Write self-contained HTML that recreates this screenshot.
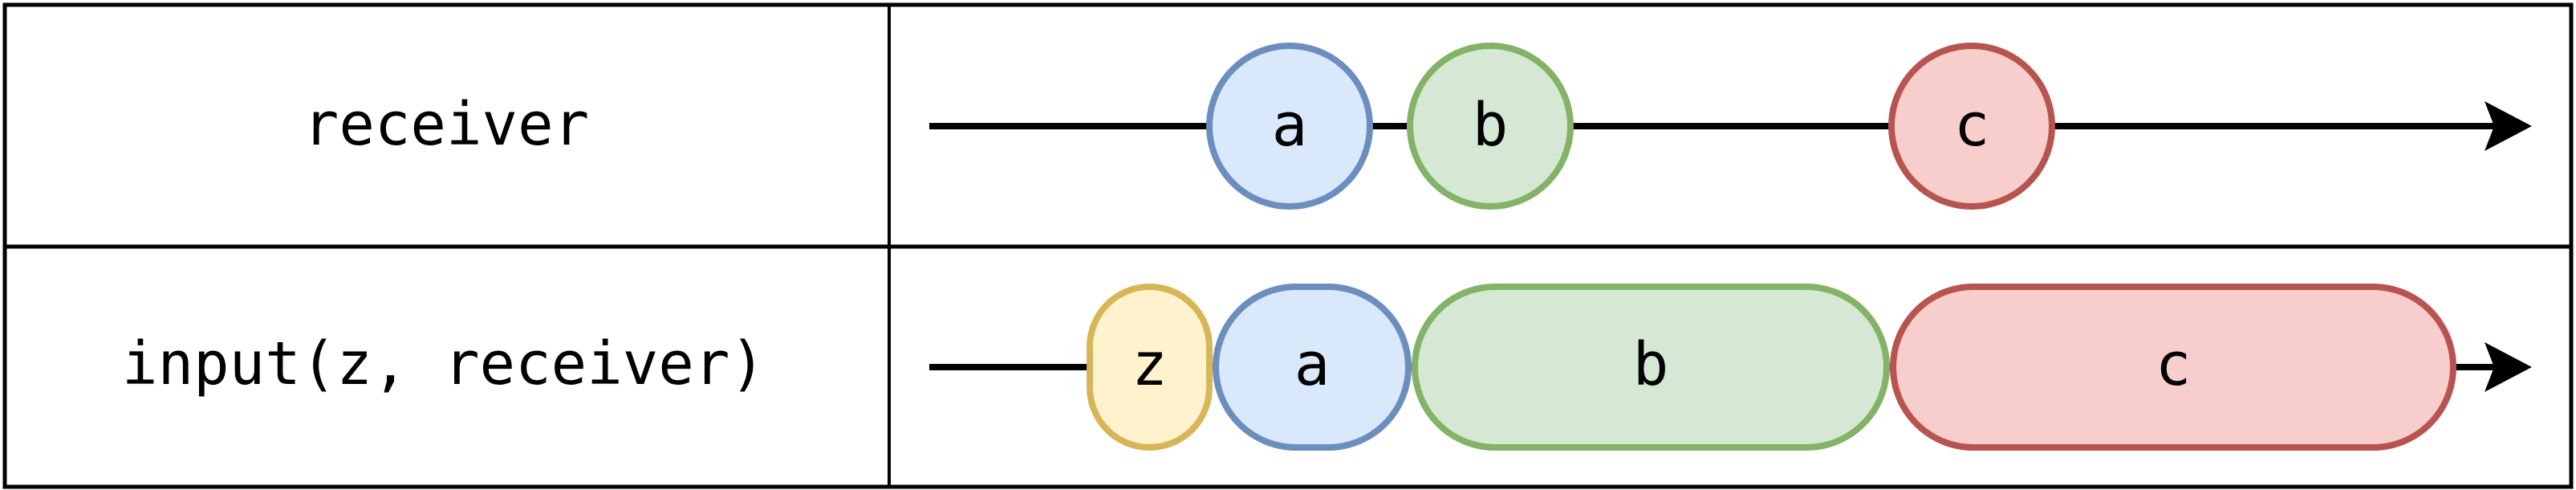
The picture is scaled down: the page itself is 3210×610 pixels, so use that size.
<!DOCTYPE html>
<html><head><meta charset="utf-8"><style>
html,body{margin:0;padding:0;background:#fff;}
svg{display:block;}
text{font-family:"DejaVu Sans Mono","Liberation Mono",monospace;font-size:74px;fill:#000;}
</style></head><body>
<svg id="chart" width="3210" height="610" viewBox="0 0 3210 610" xmlns="http://www.w3.org/2000/svg">
<rect x="6" y="6" width="3198" height="600" fill="none" stroke="#000" stroke-width="5"/>
<line x1="6" y1="307" x2="3204" y2="307" stroke="#000" stroke-width="5"/>
<line x1="1108" y1="6" x2="1108" y2="606" stroke="#000" stroke-width="4"/>
<text x="556" y="180" text-anchor="middle">receiver</text>
<text x="553" y="478" text-anchor="middle">input(z, receiver)</text>
<g id="marks"></g>
</svg>
<script>
const topLabels=["a","b","c"];
const topCenters=[1607,1857,2457];
const botLabels=["z","a","b","c"];
const botStarts=[1354,1511,1759,2355];
const botEnds=[1511,1759,2355,3061];
const colors={a:["#dae8fc","#6c8ebf"],b:["#d5e8d4","#82b366"],c:["#f8cecc","#b85450"],z:["#fff2cc","#d6b656"]};
const NS="http://www.w3.org/2000/svg";
const g=document.getElementById("marks");
function mk(t,a){const e=document.createElementNS(NS,t);for(const k in a)e.setAttribute(k,a[k]);g.appendChild(e);return e;}
function arrow(y,x1){
 const l=mk("line",{x1:x1,y1:y,x2:3140,y2:y,stroke:"#000","stroke-width":8});
 
 
 const p=mk("polygon",{points:`3096,${y-31} 3155,${y} 3096,${y+31} 3108,${y}`,fill:"#000"});
 
 
}
arrow(157,1158);
arrow(457,1158);
topLabels.forEach((lb,i)=>{
 const c=mk("circle",{cx:topCenters[i],cy:157,r:100,fill:colors[lb][0],stroke:colors[lb][1],"stroke-width":8});
 
 
 const t=mk("text",{x:topCenters[i],y:181,"text-anchor":"middle"});t.textContent=lb;
 
 
});
botLabels.forEach((lb,i)=>{
 const x=botStarts[i]+4,w=botEnds[i]-botStarts[i]-8;
 const r=Math.min(w/2,100);
 const ry=w/2<100?r:100;
 const c=mk("rect",{x:x,y:357,width:w,height:200,rx:r,ry:ry,fill:colors[lb][0],stroke:colors[lb][1],"stroke-width":8});
 
 
 const t=mk("text",{x:(botStarts[i]+botEnds[i])/2,y:479,"text-anchor":"middle"});t.textContent=lb;
 
 
});
</script>
</body></html>
